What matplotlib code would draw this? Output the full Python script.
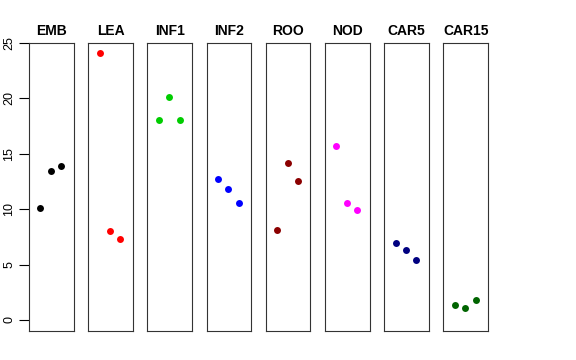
import matplotlib
matplotlib.use("Agg")
import matplotlib.pyplot as plt

plt.rcParams['font.family'] = ['Liberation Sans', 'DejaVu Sans']

tissues = ['EMB', 'LEA', 'INF1', 'INF2', 'ROO', 'NOD', 'CAR5', 'CAR15']
colors = ['black', 'red', '#00CD00', 'blue', '#8B0000', 'magenta', '#000080', '#006400']
reps = [1, 2, 3]
emb = [10.1, 13.4, 13.9]
lea = [24.1, 8.0, 7.35]
inf1 = [18.05, 20.1, 18.05]
inf2 = [12.75, 11.8, 10.6]
roo = [8.1, 14.2, 12.5]
nod = [15.7, 10.6, 9.9]
car5 = [6.93, 6.27, 5.37]
car15 = [1.38, 1.08, 1.78]
values = [emb, lea, inf1, inf2, roo, nod, car5, car15]
yticks = [0, 5, 10, 15, 20, 25]

W, H = 576, 360
fig = plt.figure(figsize=(W / 100, H / 100), dpi=100)

for i, (name, col, vals) in enumerate(zip(tissues, colors, values)):
    left = 29 + 59.2 * i
    ax = fig.add_axes([left / W, 29 / H, 44.6 / W, 288 / H])
    ax.plot(reps, vals, 'o', color=col, ms=5, mew=0)
    ax.set_xlim(-0.1, 4.2)
    ax.set_ylim(-1, 25)
    ax.set_xticks([])
    ax.set_title(name, fontsize=10, fontweight='bold', pad=6)
    for s in ax.spines.values():
        s.set_linewidth(0.8)
        s.set_color('#333333')
    if i == 0:
        ax.set_yticks(yticks)
        ax.set_yticklabels([str(t) for t in yticks], rotation=90, va='center', fontsize=9)
        ax.tick_params(axis='y', length=7, width=0.8, pad=3)
    else:
        ax.set_yticks([])

fig.savefig('out.png', dpi=100)
